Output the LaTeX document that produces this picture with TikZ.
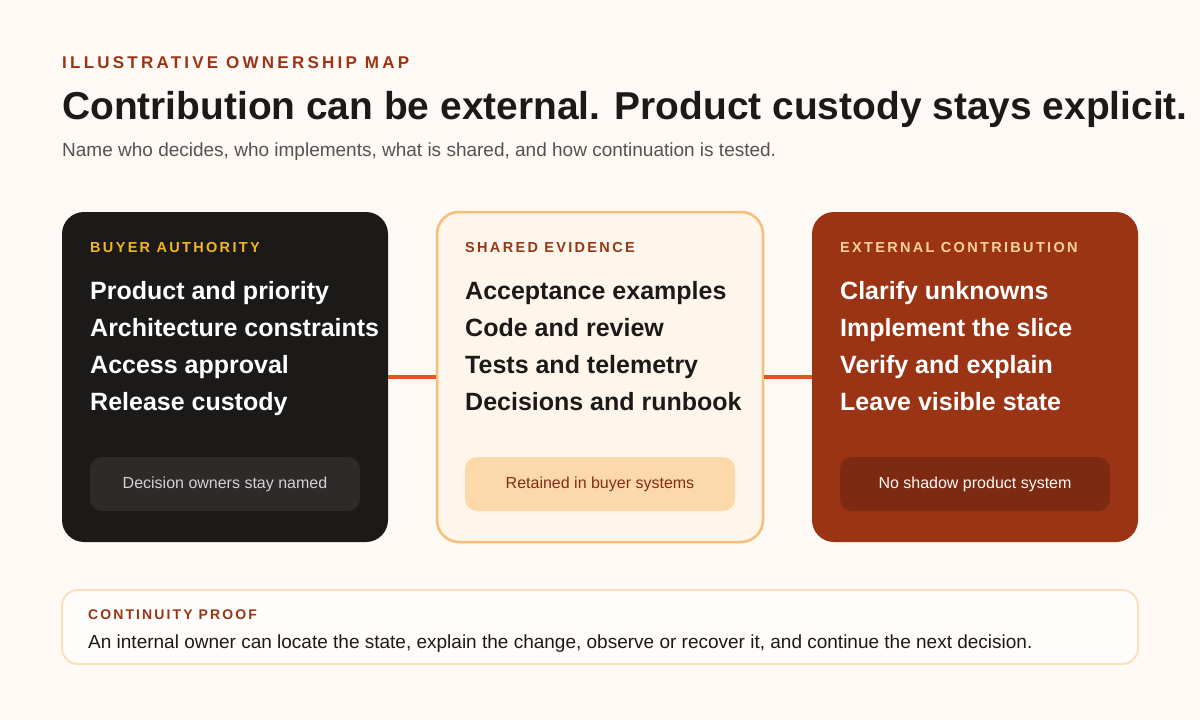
\documentclass[tikz,border=0pt]{standalone}
\usepackage{fontspec}
\setmainfont{Liberation Sans}
\newfontfamily\spaced[LetterSpace=16]{Liberation Sans}
\newfontfamily\spacedproof[LetterSpace=15]{Liberation Sans}
\newfontfamily\spacedwide[LetterSpace=19]{Liberation Sans}
\definecolor{bg}{HTML}{FEF9F4}
\definecolor{ink}{HTML}{1C1A19}
\definecolor{rust}{HTML}{9A3414}
\definecolor{amber}{HTML}{F5B523}
\definecolor{peach}{HTML}{FCD29C}
\definecolor{cream}{HTML}{FEF6EA}
\definecolor{orangeline}{HTML}{F8BE78}
\definecolor{conn}{HTML}{E6531C}
\definecolor{greytxt}{HTML}{555250}
\definecolor{darkpill}{HTML}{2E2A29}
\definecolor{rustpill}{HTML}{7D2A12}
\tikzset{
  cardbox/.style={rounded corners=22pt, minimum width=326pt, minimum height=330pt, inner sep=0pt},
  pillbox/.style={rounded corners=12pt, minimum width=270pt, minimum height=54pt, inner sep=0pt, font=\fontsize{16}{18}\selectfont},
  cardlabel/.style={anchor=base west, inner sep=0pt, font=\spaced\bfseries\fontsize{14.5}{16}\selectfont},
  items/.style={anchor=north west, inner sep=0pt, font=\bfseries\fontsize{25}{37}\selectfont, align=left},
  connector/.style={draw=conn, line width=4pt}
}
\begin{document}
\begin{tikzpicture}[x=1pt,y=-1pt]
\fill[bg] (0,0) rectangle (1200,720);
\useasboundingbox (0,0) rectangle (1200,720);
% header
\node[anchor=base west, inner sep=0pt, text=rust, font=\spacedwide\bfseries\fontsize{17}{18}\selectfont] (kicker) at (62,68) {ILLUSTRATIVE OWNERSHIP MAP};
\node[anchor=base west, inner sep=0pt, text=ink, font=\bfseries\fontsize{38.9}{44}\selectfont] (title) at (62,119) {Contribution can be external. Product custody stays explicit.};
\node[anchor=base west, inner sep=0pt, text=greytxt, font=\fontsize{19}{22}\selectfont] (sub) at (62,156) {Name who decides, who implements, what is shared, and how continuation is tested.};
% cards
\node[cardbox, fill=ink] (c1) at (225,377) {};
\node[cardbox, fill=cream, draw=orangeline, line width=2.5pt] (c2) at (600,377) {};
\node[cardbox, fill=rust] (c3) at (975,377) {};
\draw[connector] (c1.east) -- (c2.west);
\draw[connector] (c2.east) -- (c3.west);
% card 1
\node[cardlabel, text=amber] (l1) at (90,252) {BUYER AUTHORITY};
\node[items, text=white] (i1) at (90,281) {Product and priority\\Architecture constraints\\Access approval\\Release custody};
\node[pillbox, fill=darkpill, text=white!80!ink] (p1) at (225,484) {Decision owners stay named};
% card 2
\node[cardlabel, text=rust] (l2) at (465,252) {SHARED EVIDENCE};
\node[items, text=ink] (i2) at (465,281) {Acceptance examples\\Code and review\\Tests and telemetry\\Decisions and runbook};
\node[pillbox, fill=peach!85!white, text=rust!85!black] (p2) at (600,484) {Retained in buyer systems};
% card 3
\node[cardlabel, text=peach] (l3) at (840,252) {EXTERNAL CONTRIBUTION};
\node[items, text=white] (i3) at (840,281) {Clarify unknowns\\Implement the slice\\Verify and explain\\Leave visible state};
\node[pillbox, fill=rustpill, text=white!90!peach] (p3) at (975,484) {No shadow product system};
% bottom
\node[rounded corners=16pt, minimum width=1076pt, minimum height=74pt, inner sep=0pt, fill=white!70!bg, draw=peach!70!white, line width=2pt] (proof) at (600,627) {};
\node[anchor=base west, inner sep=0pt, text=rust, font=\spacedproof\bfseries\fontsize{14}{15}\selectfont] (pl) at (88,619) {CONTINUITY PROOF};
\node[anchor=base west, inner sep=0pt, text=ink, font=\fontsize{19}{20}\selectfont] (pt) at (88,648) {An internal owner can locate the state, explain the change, observe or recover it, and continue the next decision.};
\end{tikzpicture}
\end{document}
